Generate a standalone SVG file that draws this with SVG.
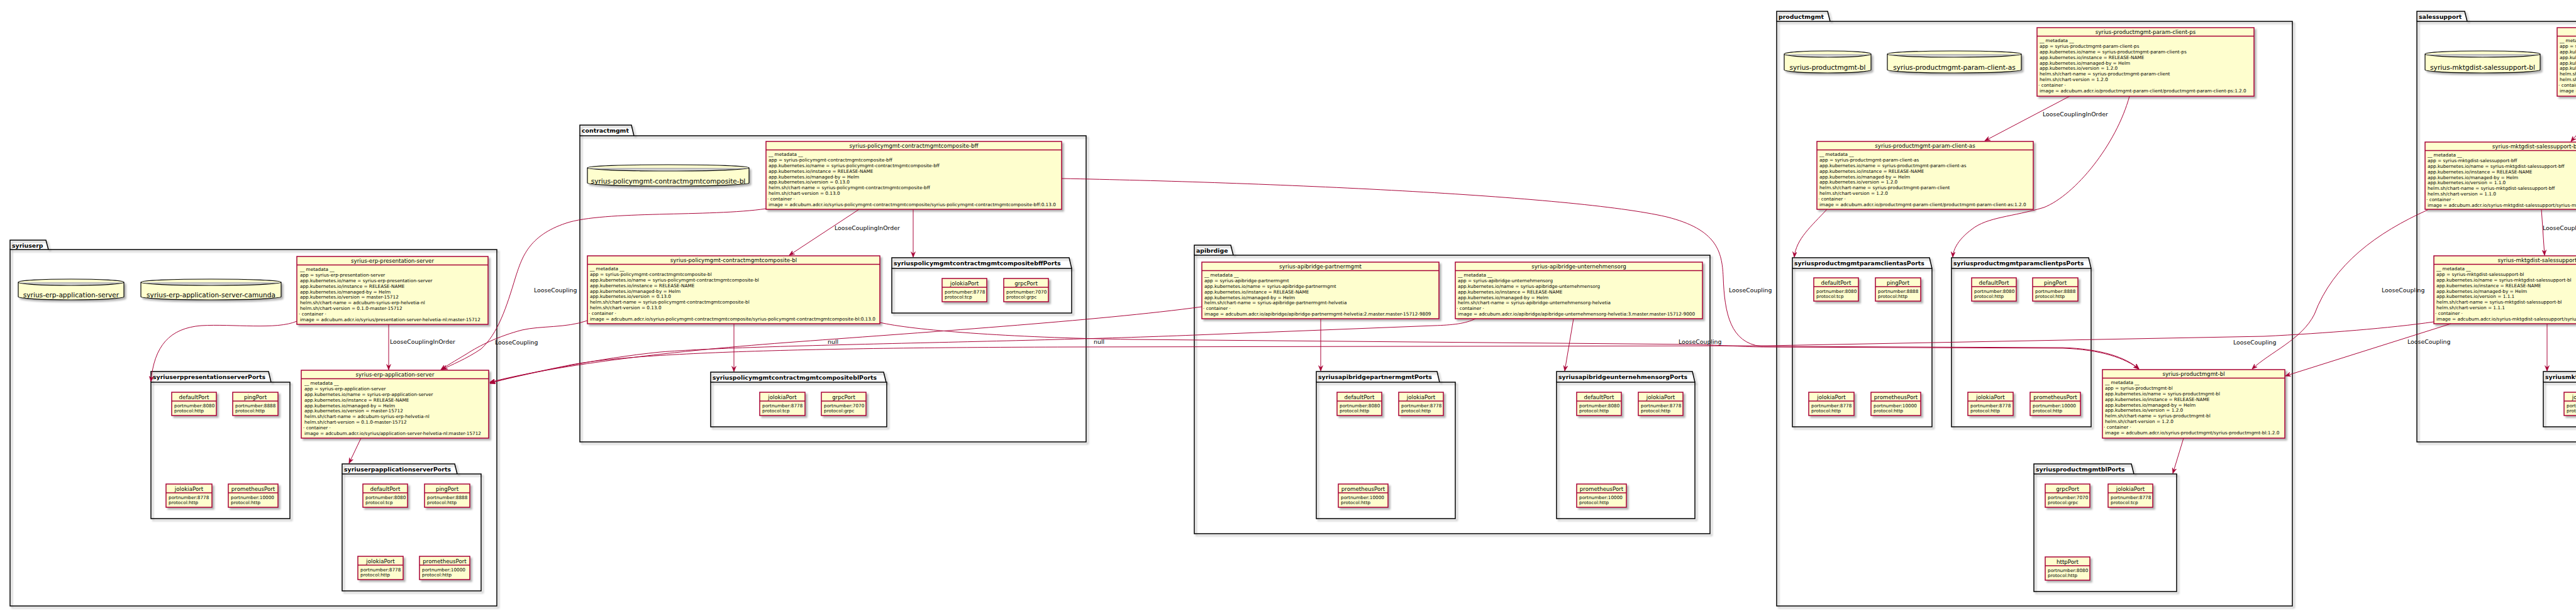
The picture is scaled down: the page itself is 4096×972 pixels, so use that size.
<svg xmlns="http://www.w3.org/2000/svg" width="4096" height="972" viewBox="0 0 4096 972">
<style>
.pk rect,.pk path{fill:none;stroke:#000;stroke-width:1.5;filter:url(#sh)}
.pt{font-family:"DejaVu Sans",sans-serif;font-weight:bold;font-size:9.4px;fill:#000}
.nd rect{fill:#FEFECE;stroke:#A80036;stroke-width:1.5;filter:url(#sh)}
.nd line{stroke:#A80036;stroke-width:1.5}
.hd{font-family:"DejaVu Sans",sans-serif;font-size:8.7px;text-anchor:middle;fill:#000}
.bd{font-family:"DejaVu Sans",sans-serif;font-size:7.3px;fill:#000}
.db path{fill:#FEFECE;stroke:#000;stroke-width:1.2;filter:url(#sh)}
.dt{font-family:"DejaVu Sans",sans-serif;font-size:10.6px;text-anchor:middle;fill:#000}
.ed path{fill:none;stroke:#A80036;stroke-width:1;marker-end:url(#ah)}
.lb{font-family:"DejaVu Sans",sans-serif;font-size:9.4px;fill:#000}
</style>
<defs>
<filter id="sh" x="-5%" y="-5%" width="115%" height="130%"><feDropShadow dx="3" dy="3" stdDeviation="1.5" flood-color="#000" flood-opacity="0.3"/></filter>
<marker id="ah" viewBox="0 0 10 8" refX="9.5" refY="4" markerWidth="9" markerHeight="7.2" orient="auto" markerUnits="userSpaceOnUse"><path d="M0,0 L10,4 L0,8 L3.5,4 Z" fill="#A80036" stroke="#A80036" stroke-width="0.5"/></marker>
</defs>
<rect width="4096" height="972" fill="#fff"/>

<g id="packages">
<g id="pkg-syriuserp" class="pk"><rect x="16" y="397" width="774" height="567"/><path d="M16,397 L16,382 L73,382 L77,397"/><text class="pt" x="19" y="394">syriuserp</text></g>
<g id="pkg-syriuserppresentationserverPorts" class="pk"><rect x="240" y="608" width="221" height="217"/><path d="M240,608 L240,591 L427,591 L431,608"/><text class="pt" x="243" y="603">syriuserppresentationserverPorts</text></g>
<g id="pkg-syriuserpapplicationserverPorts" class="pk"><rect x="544" y="754" width="221" height="186"/><path d="M544,754 L544,738 L723,738 L727,754"/><text class="pt" x="547" y="750">syriuserpapplicationserverPorts</text></g>
<g id="pkg-contractmgmt" class="pk"><rect x="922" y="216" width="805" height="487"/><path d="M922,216 L922,199 L1004,199 L1008,216"/><text class="pt" x="925" y="211">contractmgmt</text></g>
<g id="pkg-bffPorts" class="pk"><rect x="1418" y="427" width="286" height="71"/><path d="M1418,427 L1418,410 L1700,410 L1704,427"/><text class="pt" x="1421" y="422">syriuspolicymgmtcontractmgmtcompositebffPorts</text></g>
<g id="pkg-blPorts" class="pk"><rect x="1130" y="608" width="280" height="71"/><path d="M1130,608 L1130,592 L1405,592 L1409,608"/><text class="pt" x="1133" y="604">syriuspolicymgmtcontractmgmtcompositeblPorts</text></g>
<g id="pkg-apibridge" class="pk"><rect x="1899" y="406" width="820" height="443"/><path d="M1899,406 L1899,390 L1957,390 L1961,406"/><text class="pt" x="1902" y="402">apibrdige</text></g>
<g id="pkg-partnermgmtPorts" class="pk"><rect x="2093" y="608" width="221" height="217"/><path d="M2093,608 L2093,591 L2285,591 L2289,608"/><text class="pt" x="2096" y="603">syriusapibridgepartnermgmtPorts</text></g>
<g id="pkg-unternehmensorgPorts" class="pk"><rect x="2475" y="608" width="220" height="217"/><path d="M2475,608 L2475,591 L2691,591 L2695,608"/><text class="pt" x="2478" y="603">syriusapibridgeunternehmensorgPorts</text></g>
<g id="pkg-productmgmt" class="pk"><rect x="2825" y="34" width="820" height="930"/><path d="M2825,34 L2825,18 L2906,18 L2910,34"/><text class="pt" x="2828" y="30">productmgmt</text></g>
<g id="pkg-paramclientasPorts" class="pk"><rect x="2850" y="427" width="222" height="252"/><path d="M2850,427 L2850,410 L3068,410 L3072,427"/><text class="pt" x="2853" y="422">syriusproductmgmtparamclientasPorts</text></g>
<g id="pkg-paramclientpsPorts" class="pk"><rect x="3103" y="427" width="222" height="252"/><path d="M3103,427 L3103,410 L3321,410 L3325,427"/><text class="pt" x="3106" y="422">syriusproductmgmtparamclientpsPorts</text></g>
<g id="pkg-productmgmtblPorts" class="pk"><rect x="3234" y="754" width="227" height="187"/><path d="M3234,754 L3234,738 L3389,738 L3393,754"/><text class="pt" x="3237" y="750">syriusproductmgmtblPorts</text></g>
<g id="pkg-salessupport" class="pk"><rect x="3843" y="34" width="400" height="669"/><path d="M3843,34 L3843,18 L3919,18 L3923,34"/><text class="pt" x="3846" y="30">salessupport</text></g>
<g id="pkg-salessupportblPorts" class="pk"><rect x="4044" y="608" width="260" height="71"/><path d="M4044,608 L4044,591 L4240,591 L4244,608"/><text class="pt" x="4047" y="603">syriusmktgdistsalessupportblPorts</text></g>
</g>

<g id="databases" class="db">
<g id="db-erp-application-server" transform="translate(29,444)"><path d="M0,5 A84,5 0 0 1 168,5 L168,28 A84,5 0 0 1 0,28 Z M0,5 A84,5 0 0 0 168,5"/><text class="dt" x="84" y="28.8">syrius-erp-application-server</text></g>
<g id="db-erp-application-server-camunda" transform="translate(224,444)"><path d="M0,5 A111.5,5 0 0 1 223,5 L223,28 A111.5,5 0 0 1 0,28 Z M0,5 A111.5,5 0 0 0 223,5"/><text class="dt" x="111.5" y="28.8">syrius-erp-application-server-camunda</text></g>
<g id="db-contractmgmtcomposite-bl" transform="translate(934,262)"><path d="M0,5 A128.5,5 0 0 1 257,5 L257,29 A128.5,5 0 0 1 0,29 Z M0,5 A128.5,5 0 0 0 257,5"/><text class="dt" x="128.5" y="29.5">syrius-policymgmt-contractmgmtcomposite-bl</text></g>
<g id="db-productmgmt-bl" transform="translate(2837,81)"><path d="M0,5 A69,5 0 0 1 138,5 L138,30 A69,5 0 0 1 0,30 Z M0,5 A69,5 0 0 0 138,5"/><text class="dt" x="69" y="30">syrius-productmgmt-bl</text></g>
<g id="db-productmgmt-param-client-as" transform="translate(3001,81)"><path d="M0,5 A106.5,5 0 0 1 213,5 L213,30 A106.5,5 0 0 1 0,30 Z M0,5 A106.5,5 0 0 0 213,5"/><text class="dt" x="106.5" y="30">syrius-productmgmt-param-client-as</text></g>
<g id="db-mktgdist-salessupport-bl" transform="translate(3856,81)"><path d="M0,5 A91.5,5 0 0 1 183,5 L183,30 A91.5,5 0 0 1 0,30 Z M0,5 A91.5,5 0 0 0 183,5"/><text class="dt" x="91.5" y="30">syrius-mktgdist-salessupport-bl</text></g>
</g>

<g id="nodes" class="nd">
<g id="syrius-erp-presentation-server" transform="translate(472,408)"><rect width="304" height="108"/><line x1="0" y1="13.5" x2="304" y2="13.5"/><text class="hd" x="152" y="10">syrius-erp-presentation-server</text><text class="bd" y="23.3"><tspan x="5">__ metadata __</tspan><tspan x="5" dy="8.8">app = syrius-erp-presentation-server</tspan><tspan x="5" dy="8.8">app.kubernetes.io/name = syrius-erp-presentation-server</tspan><tspan x="5" dy="8.8">app.kubernetes.io/instance = RELEASE-NAME</tspan><tspan x="5" dy="8.8">app.kubernetes.io/managed-by = Helm</tspan><tspan x="5" dy="8.8">app.kubernetes.io/version = master-15712</tspan><tspan x="5" dy="8.8">helm.sh/chart-name = adcubum-syrius-erp-helvetia-nl</tspan><tspan x="5" dy="8.8">helm.sh/chart-version = 0.1.0-master-15712</tspan><tspan x="3" dy="8.8">· container ·</tspan><tspan x="5" dy="8.8">image = adcubum.adcr.io/syrius/presentation-server-helvetia-nl:master-15712</tspan></text></g>
<g id="syrius-erp-application-server" transform="translate(479,589)"><rect width="298" height="108"/><line x1="0" y1="13.5" x2="298" y2="13.5"/><text class="hd" x="149" y="10">syrius-erp-application-server</text><text class="bd" y="23.3"><tspan x="5">__ metadata __</tspan><tspan x="5" dy="8.8">app = syrius-erp-application-server</tspan><tspan x="5" dy="8.8">app.kubernetes.io/name = syrius-erp-application-server</tspan><tspan x="5" dy="8.8">app.kubernetes.io/instance = RELEASE-NAME</tspan><tspan x="5" dy="8.8">app.kubernetes.io/managed-by = Helm</tspan><tspan x="5" dy="8.8">app.kubernetes.io/version = master-15712</tspan><tspan x="5" dy="8.8">helm.sh/chart-name = adcubum-syrius-erp-helvetia-nl</tspan><tspan x="5" dy="8.8">helm.sh/chart-version = 0.1.0-master-15712</tspan><tspan x="3" dy="8.8">· container ·</tspan><tspan x="5" dy="8.8">image = adcubum.adcr.io/syrius/application-server-helvetia-nl:master-15712</tspan></text></g>
<g id="syrius-policymgmt-contractmgmtcomposite-bff" transform="translate(1218,225)"><rect width="470" height="108"/><line x1="0" y1="13.5" x2="470" y2="13.5"/><text class="hd" x="235" y="10">syrius-policymgmt-contractmgmtcomposite-bff</text><text class="bd" y="23.3"><tspan x="4">__ metadata __</tspan><tspan x="4" dy="8.8">app = syrius-policymgmt-contractmgmtcomposite-bff</tspan><tspan x="4" dy="8.8">app.kubernetes.io/name = syrius-policymgmt-contractmgmtcomposite-bff</tspan><tspan x="4" dy="8.8">app.kubernetes.io/instance = RELEASE-NAME</tspan><tspan x="4" dy="8.8">app.kubernetes.io/managed-by = Helm</tspan><tspan x="4" dy="8.8">app.kubernetes.io/version = 0.13.0</tspan><tspan x="4" dy="8.8">helm.sh/chart-name = syrius-policymgmt-contractmgmtcomposite-bff</tspan><tspan x="4" dy="8.8">helm.sh/chart-version = 0.13.0</tspan><tspan x="2" dy="8.8">· container ·</tspan><tspan x="4" dy="8.8">image = adcubum.adcr.io/syrius-policymgmt-contractmgmtcomposite/syrius-policymgmt-contractmgmtcomposite-bff:0.13.0</tspan></text></g>
<g id="syrius-policymgmt-contractmgmtcomposite-bl" transform="translate(934,407)"><rect width="465" height="108"/><line x1="0" y1="13.5" x2="465" y2="13.5"/><text class="hd" x="232.5" y="10">syrius-policymgmt-contractmgmtcomposite-bl</text><text class="bd" y="23.3"><tspan x="4">__ metadata __</tspan><tspan x="4" dy="8.8">app = syrius-policymgmt-contractmgmtcomposite-bl</tspan><tspan x="4" dy="8.8">app.kubernetes.io/name = syrius-policymgmt-contractmgmtcomposite-bl</tspan><tspan x="4" dy="8.8">app.kubernetes.io/instance = RELEASE-NAME</tspan><tspan x="4" dy="8.8">app.kubernetes.io/managed-by = Helm</tspan><tspan x="4" dy="8.8">app.kubernetes.io/version = 0.13.0</tspan><tspan x="4" dy="8.8">helm.sh/chart-name = syrius-policymgmt-contractmgmtcomposite-bl</tspan><tspan x="4" dy="8.8">helm.sh/chart-version = 0.13.0</tspan><tspan x="2" dy="8.8">· container ·</tspan><tspan x="4" dy="8.8">image = adcubum.adcr.io/syrius-policymgmt-contractmgmtcomposite/syrius-policymgmt-contractmgmtcomposite-bl:0.13.0</tspan></text></g>
<g id="syrius-apibridge-partnermgmt" transform="translate(1911,417)"><rect width="377" height="90"/><line x1="0" y1="13.5" x2="377" y2="13.5"/><text class="hd" x="188.5" y="10">syrius-apibridge-partnermgmt</text><text class="bd" y="23.3"><tspan x="4">__ metadata __</tspan><tspan x="4" dy="8.8">app = syrius-apibridge-partnermgmt</tspan><tspan x="4" dy="8.8">app.kubernetes.io/name = syrius-apibridge-partnermgmt</tspan><tspan x="4" dy="8.8">app.kubernetes.io/instance = RELEASE-NAME</tspan><tspan x="4" dy="8.8">app.kubernetes.io/managed-by = Helm</tspan><tspan x="4" dy="8.8">helm.sh/chart-name = syrius-apibridge-partnermgmt-helvetia</tspan><tspan x="2" dy="8.8">· container ·</tspan><tspan x="4" dy="8.8">image = adcubum.adcr.io/apibridge/apibridge-partnermgmt-helvetia:2.master.master-15712-9809</tspan></text></g>
<g id="syrius-apibridge-unternehmensorg" transform="translate(2314,417)"><rect width="393" height="90"/><line x1="0" y1="13.5" x2="393" y2="13.5"/><text class="hd" x="196.5" y="10">syrius-apibridge-unternehmensorg</text><text class="bd" y="23.3"><tspan x="4">__ metadata __</tspan><tspan x="4" dy="8.8">app = syrius-apibridge-unternehmensorg</tspan><tspan x="4" dy="8.8">app.kubernetes.io/name = syrius-apibridge-unternehmensorg</tspan><tspan x="4" dy="8.8">app.kubernetes.io/instance = RELEASE-NAME</tspan><tspan x="4" dy="8.8">app.kubernetes.io/managed-by = Helm</tspan><tspan x="4" dy="8.8">helm.sh/chart-name = syrius-apibridge-unternehmensorg-helvetia</tspan><tspan x="2" dy="8.8">· container ·</tspan><tspan x="4" dy="8.8">image = adcubum.adcr.io/apibridge/apibridge-unternehmensorg-helvetia:3.master.master-15712-9000</tspan></text></g>
<g id="syrius-productmgmt-param-client-ps" transform="translate(3239,44)"><rect width="345" height="109"/><line x1="0" y1="13.5" x2="345" y2="13.5"/><text class="hd" x="172.5" y="10">syrius-productmgmt-param-client-ps</text><text class="bd" y="23.3"><tspan x="4">__ metadata __</tspan><tspan x="4" dy="8.8">app = syrius-productmgmt-param-client-ps</tspan><tspan x="4" dy="8.8">app.kubernetes.io/name = syrius-productmgmt-param-client-ps</tspan><tspan x="4" dy="8.8">app.kubernetes.io/instance = RELEASE-NAME</tspan><tspan x="4" dy="8.8">app.kubernetes.io/managed-by = Helm</tspan><tspan x="4" dy="8.8">app.kubernetes.io/version = 1.2.0</tspan><tspan x="4" dy="8.8">helm.sh/chart-name = syrius-productmgmt-param-client</tspan><tspan x="4" dy="8.8">helm.sh/chart-version = 1.2.0</tspan><tspan x="2" dy="8.8">· container ·</tspan><tspan x="4" dy="8.8">image = adcubum.adcr.io/productmgmt-param-client/productmgmt-param-client-ps:1.2.0</tspan></text></g>
<g id="syrius-productmgmt-param-client-as" transform="translate(2889,225)"><rect width="344" height="108"/><line x1="0" y1="13.5" x2="344" y2="13.5"/><text class="hd" x="172" y="10">syrius-productmgmt-param-client-as</text><text class="bd" y="23.3"><tspan x="4">__ metadata __</tspan><tspan x="4" dy="8.8">app = syrius-productmgmt-param-client-as</tspan><tspan x="4" dy="8.8">app.kubernetes.io/name = syrius-productmgmt-param-client-as</tspan><tspan x="4" dy="8.8">app.kubernetes.io/instance = RELEASE-NAME</tspan><tspan x="4" dy="8.8">app.kubernetes.io/managed-by = Helm</tspan><tspan x="4" dy="8.8">app.kubernetes.io/version = 1.2.0</tspan><tspan x="4" dy="8.8">helm.sh/chart-name = syrius-productmgmt-param-client</tspan><tspan x="4" dy="8.8">helm.sh/chart-version = 1.2.0</tspan><tspan x="2" dy="8.8">· container ·</tspan><tspan x="4" dy="8.8">image = adcubum.adcr.io/productmgmt-param-client/productmgmt-param-client-as:1.2.0</tspan></text></g>
<g id="syrius-productmgmt-bl" transform="translate(3343,588)"><rect width="290" height="109"/><line x1="0" y1="13.5" x2="290" y2="13.5"/><text class="hd" x="145" y="10">syrius-productmgmt-bl</text><text class="bd" y="23.3"><tspan x="4">__ metadata __</tspan><tspan x="4" dy="8.8">app = syrius-productmgmt-bl</tspan><tspan x="4" dy="8.8">app.kubernetes.io/name = syrius-productmgmt-bl</tspan><tspan x="4" dy="8.8">app.kubernetes.io/instance = RELEASE-NAME</tspan><tspan x="4" dy="8.8">app.kubernetes.io/managed-by = Helm</tspan><tspan x="4" dy="8.8">app.kubernetes.io/version = 1.2.0</tspan><tspan x="4" dy="8.8">helm.sh/chart-name = syrius-productmgmt-bl</tspan><tspan x="4" dy="8.8">helm.sh/chart-version = 1.2.0</tspan><tspan x="2" dy="8.8">· container ·</tspan><tspan x="4" dy="8.8">image = adcubum.adcr.io/syrius-productmgmt/syrius-productmgmt-bl:1.2.0</tspan></text></g>
<g id="syrius-mktgdist-salessupport-ui" transform="translate(4066,44)"><rect width="300" height="109"/><line x1="0" y1="13.5" x2="300" y2="13.5"/><text class="hd" x="150" y="10">syrius-mktgdist-salessupport-ui</text><text class="bd" y="23.3"><tspan x="4">__ metadata __</tspan><tspan x="4" dy="8.8">app = syrius-mktgdist-salessupport-ui</tspan><tspan x="4" dy="8.8">app.kubernetes.io/name = syrius-mktgdist-salessupport-ui</tspan><tspan x="4" dy="8.8">app.kubernetes.io/instance = RELEASE-NAME</tspan><tspan x="4" dy="8.8">app.kubernetes.io/managed-by = Helm</tspan><tspan x="4" dy="8.8">app.kubernetes.io/version = 1.1.0</tspan><tspan x="4" dy="8.8">helm.sh/chart-name = syrius-mktgdist-salessupport-ui</tspan><tspan x="4" dy="8.8">helm.sh/chart-version = 1.1.0</tspan><tspan x="2" dy="8.8">· container ·</tspan><tspan x="4" dy="8.8">image = adcubum.adcr.io/syrius-mktgdist-salessupport/syrius-mktgdist-salessupport-ui:1.1.0</tspan></text></g>
<g id="syrius-mktgdist-salessupport-bff" transform="translate(3856,226)"><rect width="354" height="107"/><line x1="0" y1="13.5" x2="354" y2="13.5"/><text class="hd" x="177" y="10">syrius-mktgdist-salessupport-bff</text><text class="bd" y="23.3"><tspan x="4">__ metadata __</tspan><tspan x="4" dy="8.8">app = syrius-mktgdist-salessupport-bff</tspan><tspan x="4" dy="8.8">app.kubernetes.io/name = syrius-mktgdist-salessupport-bff</tspan><tspan x="4" dy="8.8">app.kubernetes.io/instance = RELEASE-NAME</tspan><tspan x="4" dy="8.8">app.kubernetes.io/managed-by = Helm</tspan><tspan x="4" dy="8.8">app.kubernetes.io/version = 1.1.0</tspan><tspan x="4" dy="8.8">helm.sh/chart-name = syrius-mktgdist-salessupport-bff</tspan><tspan x="4" dy="8.8">helm.sh/chart-version = 1.1.0</tspan><tspan x="2" dy="8.8">· container ·</tspan><tspan x="4" dy="8.8">image = adcubum.adcr.io/syrius-mktgdist-salessupport/syrius-mktgdist-salessupport-bff:1.1.0</tspan></text></g>
<g id="syrius-mktgdist-salessupport-bl" transform="translate(3870,407)"><rect width="340" height="108"/><line x1="0" y1="13.5" x2="340" y2="13.5"/><text class="hd" x="170" y="10">syrius-mktgdist-salessupport-bl</text><text class="bd" y="23.3"><tspan x="4">__ metadata __</tspan><tspan x="4" dy="8.8">app = syrius-mktgdist-salessupport-bl</tspan><tspan x="4" dy="8.8">app.kubernetes.io/name = syrius-mktgdist-salessupport-bl</tspan><tspan x="4" dy="8.8">app.kubernetes.io/instance = RELEASE-NAME</tspan><tspan x="4" dy="8.8">app.kubernetes.io/managed-by = Helm</tspan><tspan x="4" dy="8.8">app.kubernetes.io/version = 1.1.1</tspan><tspan x="4" dy="8.8">helm.sh/chart-name = syrius-mktgdist-salessupport-bl</tspan><tspan x="4" dy="8.8">helm.sh/chart-version = 1.1.1</tspan><tspan x="2" dy="8.8">· container ·</tspan><tspan x="4" dy="8.8">image = adcubum.adcr.io/syrius-mktgdist-salessupport/syrius-mktgdist-salessupport-bl:1.1.1</tspan></text></g>
</g>

<g id="ports" class="nd">
<g id="pres-defaultPort" transform="translate(273,624)"><rect width="71" height="37"/><line x1="0" y1="14" x2="71" y2="14"/><text class="hd" x="35.5" y="10.5">defaultPort</text><text class="bd" y="23.5"><tspan x="4">portnumber:8080</tspan><tspan x="4" dy="8.6">protocol:http</tspan></text></g>
<g id="pres-pingPort" transform="translate(370,624)"><rect width="72" height="37"/><line x1="0" y1="14" x2="72" y2="14"/><text class="hd" x="36" y="10.5">pingPort</text><text class="bd" y="23.5"><tspan x="4">portnumber:8888</tspan><tspan x="4" dy="8.6">protocol:http</tspan></text></g>
<g id="pres-jolokiaPort" transform="translate(264,770)"><rect width="73" height="37"/><line x1="0" y1="14" x2="73" y2="14"/><text class="hd" x="36.5" y="10.5">jolokiaPort</text><text class="bd" y="23.5"><tspan x="4">portnumber:8778</tspan><tspan x="4" dy="8.6">protocol:http</tspan></text></g>
<g id="pres-prometheusPort" transform="translate(363,770)"><rect width="79" height="37"/><line x1="0" y1="14" x2="79" y2="14"/><text class="hd" x="39.5" y="10.5">prometheusPort</text><text class="bd" y="23.5"><tspan x="4">portnumber:10000</tspan><tspan x="4" dy="8.6">protocol:http</tspan></text></g>
<g id="app-defaultPort" transform="translate(577,770)"><rect width="71" height="37"/><line x1="0" y1="14" x2="71" y2="14"/><text class="hd" x="35.5" y="10.5">defaultPort</text><text class="bd" y="23.5"><tspan x="4">portnumber:8080</tspan><tspan x="4" dy="8.6">protocol:tcp</tspan></text></g>
<g id="app-pingPort" transform="translate(675,770)"><rect width="72" height="37"/><line x1="0" y1="14" x2="72" y2="14"/><text class="hd" x="36" y="10.5">pingPort</text><text class="bd" y="23.5"><tspan x="4">portnumber:8888</tspan><tspan x="4" dy="8.6">protocol:http</tspan></text></g>
<g id="app-jolokiaPort" transform="translate(569,885)"><rect width="72" height="37"/><line x1="0" y1="14" x2="72" y2="14"/><text class="hd" x="36" y="10.5">jolokiaPort</text><text class="bd" y="23.5"><tspan x="4">portnumber:8778</tspan><tspan x="4" dy="8.6">protocol:http</tspan></text></g>
<g id="app-prometheusPort" transform="translate(667,885)"><rect width="80" height="37"/><line x1="0" y1="14" x2="80" y2="14"/><text class="hd" x="40" y="10.5">prometheusPort</text><text class="bd" y="23.5"><tspan x="4">portnumber:10000</tspan><tspan x="4" dy="8.6">protocol:http</tspan></text></g>
<g id="bff-jolokiaPort" transform="translate(1498,443)"><rect width="71" height="37"/><line x1="0" y1="14" x2="71" y2="14"/><text class="hd" x="35.5" y="10.5">jolokiaPort</text><text class="bd" y="23.5"><tspan x="4">portnumber:8778</tspan><tspan x="4" dy="8.6">protocol:tcp</tspan></text></g>
<g id="bff-grpcPort" transform="translate(1596,443)"><rect width="71" height="37"/><line x1="0" y1="14" x2="71" y2="14"/><text class="hd" x="35.5" y="10.5">grpcPort</text><text class="bd" y="23.5"><tspan x="4">portnumber:7070</tspan><tspan x="4" dy="8.6">protocol:grpc</tspan></text></g>
<g id="bl-jolokiaPort" transform="translate(1208,624)"><rect width="72" height="37"/><line x1="0" y1="14" x2="72" y2="14"/><text class="hd" x="36" y="10.5">jolokiaPort</text><text class="bd" y="23.5"><tspan x="4">portnumber:8778</tspan><tspan x="4" dy="8.6">protocol:tcp</tspan></text></g>
<g id="bl-grpcPort" transform="translate(1306,624)"><rect width="71" height="37"/><line x1="0" y1="14" x2="71" y2="14"/><text class="hd" x="35.5" y="10.5">grpcPort</text><text class="bd" y="23.5"><tspan x="4">portnumber:7070</tspan><tspan x="4" dy="8.6">protocol:grpc</tspan></text></g>
<g id="partner-defaultPort" transform="translate(2126,624)"><rect width="71" height="37"/><line x1="0" y1="14" x2="71" y2="14"/><text class="hd" x="35.5" y="10.5">defaultPort</text><text class="bd" y="23.5"><tspan x="4">portnumber:8080</tspan><tspan x="4" dy="8.6">protocol:http</tspan></text></g>
<g id="partner-jolokiaPort" transform="translate(2224,624)"><rect width="71" height="37"/><line x1="0" y1="14" x2="71" y2="14"/><text class="hd" x="35.5" y="10.5">jolokiaPort</text><text class="bd" y="23.5"><tspan x="4">portnumber:8778</tspan><tspan x="4" dy="8.6">protocol:http</tspan></text></g>
<g id="partner-prometheusPort" transform="translate(2128,770)"><rect width="79" height="37"/><line x1="0" y1="14" x2="79" y2="14"/><text class="hd" x="39.5" y="10.5">prometheusPort</text><text class="bd" y="23.5"><tspan x="4">portnumber:10000</tspan><tspan x="4" dy="8.6">protocol:http</tspan></text></g>
<g id="untern-defaultPort" transform="translate(2507,624)"><rect width="71" height="37"/><line x1="0" y1="14" x2="71" y2="14"/><text class="hd" x="35.5" y="10.5">defaultPort</text><text class="bd" y="23.5"><tspan x="4">portnumber:8080</tspan><tspan x="4" dy="8.6">protocol:http</tspan></text></g>
<g id="untern-jolokiaPort" transform="translate(2605,624)"><rect width="71" height="37"/><line x1="0" y1="14" x2="71" y2="14"/><text class="hd" x="35.5" y="10.5">jolokiaPort</text><text class="bd" y="23.5"><tspan x="4">portnumber:8778</tspan><tspan x="4" dy="8.6">protocol:http</tspan></text></g>
<g id="untern-prometheusPort" transform="translate(2507,770)"><rect width="79" height="37"/><line x1="0" y1="14" x2="79" y2="14"/><text class="hd" x="39.5" y="10.5">prometheusPort</text><text class="bd" y="23.5"><tspan x="4">portnumber:10000</tspan><tspan x="4" dy="8.6">protocol:http</tspan></text></g>
<g id="as-defaultPort" transform="translate(2884,442)"><rect width="71" height="37"/><line x1="0" y1="14" x2="71" y2="14"/><text class="hd" x="35.5" y="10.5">defaultPort</text><text class="bd" y="23.5"><tspan x="4">portnumber:8080</tspan><tspan x="4" dy="8.6">protocol:tcp</tspan></text></g>
<g id="as-pingPort" transform="translate(2982,442)"><rect width="72" height="37"/><line x1="0" y1="14" x2="72" y2="14"/><text class="hd" x="36" y="10.5">pingPort</text><text class="bd" y="23.5"><tspan x="4">portnumber:8888</tspan><tspan x="4" dy="8.6">protocol:http</tspan></text></g>
<g id="as-jolokiaPort" transform="translate(2876,624)"><rect width="72" height="37"/><line x1="0" y1="14" x2="72" y2="14"/><text class="hd" x="36" y="10.5">jolokiaPort</text><text class="bd" y="23.5"><tspan x="4">portnumber:8778</tspan><tspan x="4" dy="8.6">protocol:http</tspan></text></g>
<g id="as-prometheusPort" transform="translate(2975,624)"><rect width="79" height="37"/><line x1="0" y1="14" x2="79" y2="14"/><text class="hd" x="39.5" y="10.5">prometheusPort</text><text class="bd" y="23.5"><tspan x="4">portnumber:10000</tspan><tspan x="4" dy="8.6">protocol:http</tspan></text></g>
<g id="ps-defaultPort" transform="translate(3135,442)"><rect width="71" height="37"/><line x1="0" y1="14" x2="71" y2="14"/><text class="hd" x="35.5" y="10.5">defaultPort</text><text class="bd" y="23.5"><tspan x="4">portnumber:8080</tspan><tspan x="4" dy="8.6">protocol:http</tspan></text></g>
<g id="ps-pingPort" transform="translate(3232,442)"><rect width="72" height="37"/><line x1="0" y1="14" x2="72" y2="14"/><text class="hd" x="36" y="10.5">pingPort</text><text class="bd" y="23.5"><tspan x="4">portnumber:8888</tspan><tspan x="4" dy="8.6">protocol:http</tspan></text></g>
<g id="ps-jolokiaPort" transform="translate(3129,624)"><rect width="72" height="37"/><line x1="0" y1="14" x2="72" y2="14"/><text class="hd" x="36" y="10.5">jolokiaPort</text><text class="bd" y="23.5"><tspan x="4">portnumber:8778</tspan><tspan x="4" dy="8.6">protocol:http</tspan></text></g>
<g id="ps-prometheusPort" transform="translate(3228,624)"><rect width="80" height="37"/><line x1="0" y1="14" x2="80" y2="14"/><text class="hd" x="40" y="10.5">prometheusPort</text><text class="bd" y="23.5"><tspan x="4">portnumber:10000</tspan><tspan x="4" dy="8.6">protocol:http</tspan></text></g>
<g id="pbl-grpcPort" transform="translate(3252,770)"><rect width="71" height="37"/><line x1="0" y1="14" x2="71" y2="14"/><text class="hd" x="35.5" y="10.5">grpcPort</text><text class="bd" y="23.5"><tspan x="4">portnumber:7070</tspan><tspan x="4" dy="8.6">protocol:grpc</tspan></text></g>
<g id="pbl-jolokiaPort" transform="translate(3352,770)"><rect width="71" height="37"/><line x1="0" y1="14" x2="71" y2="14"/><text class="hd" x="35.5" y="10.5">jolokiaPort</text><text class="bd" y="23.5"><tspan x="4">portnumber:8778</tspan><tspan x="4" dy="8.6">protocol:tcp</tspan></text></g>
<g id="pbl-httpPort" transform="translate(3252,886)"><rect width="71" height="37"/><line x1="0" y1="14" x2="71" y2="14"/><text class="hd" x="35.5" y="10.5">httpPort</text><text class="bd" y="23.5"><tspan x="4">portnumber:8080</tspan><tspan x="4" dy="8.6">protocol:http</tspan></text></g>
<g id="sbl-jolokiaPort" transform="translate(4077,624)"><rect width="71" height="37"/><line x1="0" y1="14" x2="71" y2="14"/><text class="hd" x="35.5" y="10.5">jolokiaPort</text><text class="bd" y="23.5"><tspan x="4">portnumber:8778</tspan><tspan x="4" dy="8.6">protocol:tcp</tspan></text></g>
</g>

<g id="connectors" class="ed">
<path d="M472,511 C440,525 370,515 320,518 C270,522 245,550 240,607"/>
<path d="M618,516 L618,588"/>
<path d="M574,697 L555,737"/>
<path d="M1218,332 C1130,345 960,335 900,355 C840,375 830,410 820,440 C805,490 792,530 765,555 C740,572 718,580 703,588"/>
<path d="M934,510 C900,522 860,518 830,525 C792,535 762,550 742,563 C722,575 710,582 701,588"/>
<path d="M1366,333 L1255,406"/>
<path d="M1452,333 L1452,409"/>
<path d="M1167,515 L1167,591"/>
<path d="M1911,488 C1750,510 1450,530 1250,545 C1050,560 880,582 779,608"/>
<path d="M2346,507 C2330,515 2310,517 2280,518 L1900,533 C1600,545 1200,548 1050,560 C950,570 850,592 779,609"/>
<path d="M3870,512 C3800,522 3700,530 3600,535 L2810,550 L1700,552 C1300,553 1000,560 900,582 C840,594 800,603 779,610"/>
<path d="M1399,513 C1450,525 1600,537 1800,540 L2700,548 C2750,550 2780,552 2810,552 L3280,554 C3340,556 3380,570 3401,587"/>
<path d="M1688,284 C2000,290 2500,310 2650,345 C2730,365 2738,400 2740,440 C2742,500 2752,545 2800,551 L3280,553 C3340,555 3380,568 3401,587"/>
<path d="M2100,507 L2100,590"/>
<path d="M2502,507 L2488,590"/>
<path d="M3291,153 L3156,224"/>
<path d="M3386,153 C3365,230 3300,310 3250,330 C3200,345 3160,345 3135,365 C3115,380 3106,395 3105,409"/>
<path d="M2905,333 C2880,360 2856,380 2853,409"/>
<path d="M3472,697 L3455,753"/>
<path d="M3860,334 C3780,370 3710,420 3680,500 C3660,540 3610,560 3581,587"/>
<path d="M3897,515 L3634,598"/>
<path d="M4110,200 L4088,225"/>
<path d="M4041,333 L4046,406"/>
<path d="M4050,515 L4050,590"/>
</g>

<g id="connector-labels">
<text class="lb" x="620" y="547">LooseCouplingInOrder</text>
<text class="lb" x="849" y="465">LooseCoupling</text>
<text class="lb" x="787" y="548">LooseCoupling</text>
<text class="lb" x="1327" y="366">LooseCouplingInOrder</text>
<text class="lb" x="1316" y="547">null</text>
<text class="lb" x="1739" y="547">null</text>
<text class="lb" x="2749" y="465">LooseCoupling</text>
<text class="lb" x="2669" y="547">LooseCoupling</text>
<text class="lb" x="3248" y="185">LooseCouplingInOrder</text>
<text class="lb" x="3551" y="548">LooseCoupling</text>
<text class="lb" x="3787" y="465">LooseCoupling</text>
<text class="lb" x="3828" y="547">LooseCoupling</text>
<text class="lb" x="4043" y="366">LooseCouplingInOrder</text>
</g>
</svg>
